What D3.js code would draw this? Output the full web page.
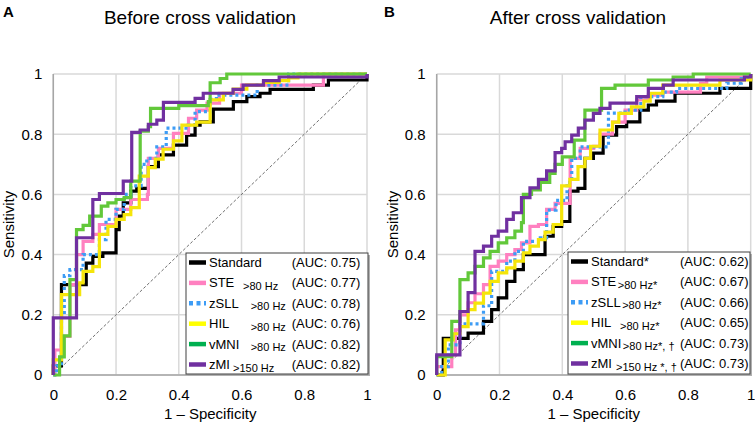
<!DOCTYPE html>
<html lang="en">
<head>
<meta charset="utf-8" />
<title>ROC curves</title>
<script src="https://cdn.jsdelivr.net/npm/d3@7"></script>
<style>
  body { margin: 0; background: #fff; }
  text { font-family: Arial, "Liberation Sans", sans-serif; fill: #000; }
</style>
</head>
<body>
<script>
// ---- data ----
var seriesNames = ["Standard", "STE", "zSLL", "HIL", "vMNI", "zMI"];
var namesAfter = ["Standard*", "STE", "zSLL", "HIL", "vMNI", "zMI"];
var subsBefore = ["", ">80 Hz", ">80 Hz", ">80 Hz", ">80 Hz", ">150 Hz"];
var subsAfter = ["", ">80 Hz*", ">80 Hz*", ">80 Hz*", ">80 Hz*, \u2020", ">150 Hz *, \u2020"];
var aucBefore = [0.75, 0.77, 0.78, 0.76, 0.82, 0.82];
var aucAfter = [0.62, 0.67, 0.66, 0.65, 0.73, 0.73];
var tickValues = [0, 0.2, 0.4, 0.6, 0.8, 1];

// [1 - specificity, sensitivity] at each step
var stdBefore = [[0,0],[0,0.03],[0.026,0.3],[0.105,0.372],[0.126,0.394],[0.158,0.406],[0.2,0.483],[0.21,0.528],[0.223,0.572],[0.247,0.611],[0.266,0.62],[0.303,0.692],[0.335,0.731],[0.383,0.764],[0.425,0.797],[0.452,0.83],[0.468,0.841],[0.51,0.883],[0.574,0.908],[0.617,0.925],[0.659,0.936],[0.691,0.949],[0.829,0.963],[0.877,0.98],[1,1]];
var steBefore = [[0,0],[0.005,0.083],[0.026,0.128],[0.053,0.3],[0.074,0.4],[0.095,0.444],[0.126,0.467],[0.147,0.5],[0.2,0.55],[0.247,0.583],[0.3,0.6],[0.303,0.72],[0.335,0.753],[0.383,0.803],[0.431,0.853],[0.457,0.88],[0.49,0.903],[0.53,0.936],[0.6,0.963],[0.861,1],[1,1]];
var zsllBefore = [[0,0],[0.01,0.03],[0.026,0.2],[0.035,0.33],[0.053,0.35],[0.095,0.4],[0.147,0.45],[0.168,0.517],[0.2,0.55],[0.226,0.6],[0.247,0.628],[0.28,0.7],[0.298,0.72],[0.33,0.758],[0.36,0.82],[0.43,0.83],[0.452,0.875],[0.5,0.916],[0.52,0.93],[0.65,0.963],[0.75,1],[1,1]];
var hilBefore = [[0,0],[0,0.05],[0.026,0.267],[0.084,0.306],[0.095,0.344],[0.126,0.36],[0.147,0.467],[0.174,0.494],[0.2,0.517],[0.226,0.533],[0.247,0.556],[0.274,0.661],[0.303,0.689],[0.325,0.717],[0.35,0.75],[0.383,0.778],[0.41,0.83],[0.457,0.84],[0.5,0.914],[0.542,0.936],[0.574,0.95],[0.617,0.963],[0.67,0.972],[0.72,0.978],[0.75,0.987],[0.78,1],[1,1]];
var vmniBefore = [[0,0],[0.02,0.06],[0.035,0.13],[0.053,0.317],[0.074,0.483],[0.095,0.497],[0.116,0.528],[0.153,0.561],[0.174,0.572],[0.2,0.583],[0.226,0.589],[0.247,0.644],[0.277,0.81],[0.303,0.825],[0.31,0.886],[0.4,0.895],[0.494,0.908],[0.5,0.971],[0.532,0.985],[0.553,1],[1,1]];
var zmiBefore = [[0,0],[0,0.19],[0.074,0.456],[0.126,0.583],[0.147,0.603],[0.223,0.644],[0.25,0.806],[0.277,0.814],[0.303,0.833],[0.33,0.847],[0.351,0.906],[0.452,0.919],[0.478,0.936],[0.573,0.949],[0.605,0.963],[0.67,0.978],[0.72,0.99],[1,1]];

var stdAfter = [[0,0],[0.021,0.122],[0.1,0.139],[0.149,0.178],[0.175,0.217],[0.196,0.256],[0.223,0.311],[0.249,0.35],[0.276,0.4],[0.345,0.461],[0.371,0.494],[0.398,0.51],[0.424,0.611],[0.45,0.62],[0.472,0.72],[0.499,0.737],[0.53,0.797],[0.573,0.825],[0.605,0.841],[0.647,0.88],[0.674,0.897],[0.7,0.91],[0.759,0.936],[0.902,0.952],[1,1]];
var steAfter = [[0,0],[0,0.028],[0.048,0.067],[0.06,0.15],[0.074,0.2],[0.1,0.24],[0.122,0.27],[0.149,0.3],[0.17,0.361],[0.196,0.378],[0.223,0.4],[0.249,0.417],[0.27,0.439],[0.297,0.494],[0.324,0.5],[0.35,0.55],[0.377,0.57],[0.425,0.72],[0.457,0.753],[0.5,0.76],[0.52,0.8],[0.56,0.84],[0.6,0.88],[0.637,0.914],[0.674,0.93],[0.72,0.94],[0.84,0.969],[0.86,0.99],[1,1]];
var zsllAfter = [[0,0],[0.016,0.028],[0.037,0.1],[0.074,0.17],[0.149,0.23],[0.175,0.344],[0.223,0.378],[0.249,0.411],[0.276,0.444],[0.33,0.456],[0.35,0.548],[0.38,0.58],[0.415,0.64],[0.43,0.72],[0.457,0.758],[0.547,0.87],[0.6,0.88],[0.65,0.925],[0.72,0.94],[0.764,0.952],[0.924,0.97],[0.97,0.985],[1,1]];
var hilAfter = [[0,0],[0.027,0.117],[0.053,0.137],[0.074,0.161],[0.1,0.217],[0.122,0.239],[0.149,0.272],[0.17,0.311],[0.196,0.339],[0.223,0.356],[0.249,0.378],[0.276,0.406],[0.297,0.428],[0.324,0.45],[0.345,0.475],[0.371,0.5],[0.398,0.628],[0.424,0.65],[0.45,0.692],[0.472,0.72],[0.49,0.76],[0.52,0.814],[0.56,0.84],[0.58,0.869],[0.62,0.891],[0.66,0.91],[0.68,0.936],[0.72,0.963],[0.902,0.98],[1,1]];
var vmniAfter = [[0,0],[0,0.061],[0.048,0.178],[0.074,0.317],[0.1,0.339],[0.122,0.361],[0.149,0.389],[0.17,0.411],[0.196,0.439],[0.223,0.456],[0.249,0.478],[0.27,0.506],[0.276,0.6],[0.302,0.615],[0.33,0.64],[0.36,0.67],[0.377,0.7],[0.4,0.725],[0.438,0.78],[0.472,0.88],[0.525,0.952],[0.568,0.963],[0.674,0.98],[0.753,0.99],[0.817,1],[1,1]];
var zmiAfter = [[0,0],[0,0.067],[0.074,0.211],[0.1,0.274],[0.122,0.411],[0.149,0.428],[0.175,0.461],[0.196,0.478],[0.223,0.517],[0.244,0.539],[0.27,0.589],[0.297,0.622],[0.324,0.65],[0.35,0.678],[0.377,0.739],[0.398,0.753],[0.409,0.775],[0.43,0.797],[0.451,0.82],[0.472,0.847],[0.499,0.869],[0.52,0.886],[0.552,0.903],[0.637,0.925],[0.674,0.952],[0.722,0.963],[0.753,0.98],[0.98,0.99],[1,1]];

// ---- styling ----
var lineColors = ["#000000", "#ff80c0", "#3d9cf5", "#f5e50a", "#62c83a", "#7030a0"];
var legendColors = ["#000000", "#ff80c0", "#3d9cf5", "#ffff00", "#00b050", "#7030a0"];

var w = 755, h = 423;
var svg = d3.select("body").append("svg").attr("width", w).attr("height", h);

var panels = [
  { letter: "A", title: "Before cross validation", x0: 53.3, x1: 367, titleX: 200, letterX: 3,
    curves: [stdBefore, steBefore, zsllBefore, hilBefore, vmniBefore, zmiBefore],
    names: seriesNames, subs: subsBefore, auc: aucBefore,
    legend: { x: 186, y: 253, w: 182, h: 121, subX: [0, 243, 250.7, 250.7, 250.7, 233], aucX: 291.7 } },
  { letter: "B", title: "After cross validation", x0: 436.7, x1: 750.7, titleX: 578, letterX: 384,
    curves: [stdAfter, steAfter, zsllAfter, hilAfter, vmniAfter, zmiAfter],
    names: namesAfter, subs: subsAfter, auc: aucAfter,
    legend: { x: 568, y: 252, w: 182, h: 122, subX: [0, 615, 617, 620, 615, 616], aucX: 680 } }
];

var yTop = 74, yBottom = 375;

panels.forEach(function(p) {
  var x = d3.scaleLinear().domain([0, 1]).range([p.x0, p.x1]);
  var y = d3.scaleLinear().domain([0, 1]).range([yBottom, yTop]);
  var g = svg.append("g");

  // grid
  g.selectAll(".gx").data(tickValues).enter().append("line")
    .attr("x1", function(d) { return x(d); }).attr("x2", function(d) { return x(d); })
    .attr("y1", yTop).attr("y2", yBottom)
    .attr("stroke", "#d9d9d9").attr("stroke-width", 1.5);
  g.selectAll(".gy").data(tickValues).enter().append("line")
    .attr("y1", function(d) { return y(d); }).attr("y2", function(d) { return y(d); })
    .attr("x1", p.x0).attr("x2", p.x1)
    .attr("stroke", "#d9d9d9").attr("stroke-width", 1.5);
  // axis lines
  g.append("line").attr("x1", p.x0).attr("x2", p.x0).attr("y1", yTop).attr("y2", yBottom)
    .attr("stroke", "#a6a6a6").attr("stroke-width", 1.5);
  g.append("line").attr("x1", p.x0).attr("x2", p.x1).attr("y1", yBottom).attr("y2", yBottom)
    .attr("stroke", "#a6a6a6").attr("stroke-width", 1.5);

  // tick labels
  var yAxis = g.append("g").attr("transform", "translate(" + p.x0 + ",0)")
    .call(d3.axisLeft(y).tickValues(tickValues).tickSize(0).tickPadding(11).tickFormat(function(d) { return String(d); }));
  var xAxis = g.append("g").attr("transform", "translate(0," + yBottom + ")")
    .call(d3.axisBottom(x).tickValues(tickValues).tickSize(0).tickPadding(14).tickFormat(function(d) { return String(d); }));
  [yAxis, xAxis].forEach(function(a) {
    a.select(".domain").remove();
    a.selectAll("text").attr("font-size", "15px").attr("font-family", "Arial, 'Liberation Sans', sans-serif").attr("fill", "#000");
  });

  // diagonal reference
  g.append("line").attr("x1", x(0)).attr("y1", y(0)).attr("x2", x(1)).attr("y2", y(1))
    .attr("stroke", "#707070").attr("stroke-width", 1).attr("stroke-dasharray", "3,2");

  // ROC curves
  var line = d3.line()
    .x(function(d) { return x(d[0]); })
    .y(function(d) { return y(d[1]); })
    .curve(d3.curveStepAfter);
  p.curves.forEach(function(c, i) {
    g.append("path").datum(c).attr("d", line)
      .attr("fill", "none").attr("stroke", lineColors[i]).attr("stroke-width", 3.2)
      .attr("stroke-linejoin", "miter")
      .attr("stroke-dasharray", i === 2 ? "3,3" : null);
  });

  // titles
  svg.append("text").attr("x", p.titleX).attr("y", 24).attr("text-anchor", "middle")
    .attr("font-size", "19px").text(p.title);
  svg.append("text").attr("x", p.letterX).attr("y", 17).attr("font-size", "15px")
    .attr("font-weight", "bold").text(p.letter);
  svg.append("text").attr("x", (p.x0 + p.x1) / 2).attr("y", 419).attr("text-anchor", "middle")
    .attr("font-size", "15px").text("1 \u2013 Specificity");
  svg.append("text").attr("transform", "translate(" + (p.x0 - 39) + "," + ((yTop + yBottom) / 2) + ") rotate(-90)")
    .attr("text-anchor", "middle").attr("font-size", "15px").text("Sensitivity");

  // legend
  var L = p.legend;
  var lg = svg.append("g");
  lg.append("rect").attr("x", L.x + 2).attr("y", L.y + 2).attr("width", L.w).attr("height", L.h).attr("fill", "#b0b0b0");
  lg.append("rect").attr("x", L.x).attr("y", L.y).attr("width", L.w).attr("height", L.h)
    .attr("fill", "#fff").attr("stroke", "#404040").attr("stroke-width", 1);
  var rowStep = 20.4;
  p.names.forEach(function(name, i) {
    var cy = L.y + 9.5 + i * rowStep;
    lg.append("line").attr("x1", L.x + 3).attr("x2", L.x + 20).attr("y1", cy).attr("y2", cy)
      .attr("stroke", legendColors[i]).attr("stroke-width", 4.5)
      .attr("stroke-dasharray", i === 2 ? "4,3.5" : null);
    var t = lg.append("text").attr("x", L.x + 23).attr("y", cy + 4.5).attr("font-size", "13px").text(name);
    if (p.subs[i]) {
      var end = L.x + 23 + t.node().getComputedTextLength() + 1.5;
      lg.append("text").attr("x", Math.max(end, L.subX[i])).attr("y", cy + 7)
        .attr("font-size", "11px").text(p.subs[i]);
    }
    lg.append("text").attr("x", L.aucX).attr("y", cy + 4.5).attr("font-size", "13px")
      .text("(AUC: " + p.auc[i].toFixed(2) + ")");
  });
});
</script>
</body>
</html>
